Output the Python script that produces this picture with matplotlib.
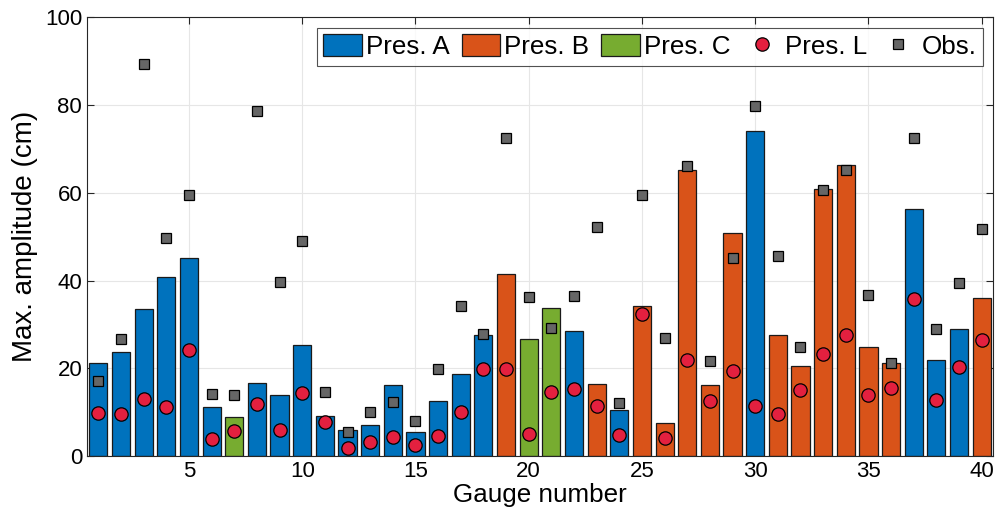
import matplotlib
matplotlib.use('Agg')
import matplotlib.pyplot as plt
import numpy as np

plt.rcParams['font.family'] = ['Liberation Sans', 'DejaVu Sans']

gauges = list(range(1, 41))
bar_vals = [21.3, 23.8, 33.6, 40.9, 45.2, 11.1, 8.9, 16.7, 13.9, 25.3,
            9.1, 5.9, 7.0, 16.3, 5.4, 12.5, 18.6, 27.6, 41.5, 26.7,
            33.8, 28.5, 16.5, 10.6, 34.1, 7.5, 65.3, 16.2, 50.9, 74.1,
            27.6, 20.6, 60.8, 66.3, 24.8, 21.2, 56.4, 21.8, 28.9, 36.1]
bar_kind = ['A', 'A', 'A', 'A', 'A', 'A', 'C', 'A', 'A', 'A',
            'A', 'A', 'A', 'A', 'A', 'A', 'A', 'A', 'B', 'C',
            'C', 'A', 'B', 'A', 'B', 'B', 'B', 'B', 'B', 'A',
            'B', 'B', 'B', 'B', 'B', 'B', 'A', 'A', 'A', 'B']
pres_l = [9.8, 9.5, 12.9, 11.2, 24.1, 3.9, 5.6, 11.9, 6.0, 14.4,
          7.7, 1.8, 3.1, 4.4, 2.4, 4.5, 10.0, 19.8, 19.9, 5.1,
          14.5, 15.3, 11.3, 4.8, 32.3, 4.1, 21.8, 12.6, 19.4, 11.4,
          9.6, 15.1, 23.2, 27.6, 14.0, 15.5, 35.9, 12.7, 20.3, 26.4]
obs = [17.0, 26.7, 89.3, 49.7, 59.5, 14.2, 14.0, 78.7, 39.6, 48.9,
       14.6, 5.4, 10.1, 12.2, 8.0, 19.8, 34.2, 27.7, 72.5, 36.3,
       29.1, 36.5, 52.1, 12.1, 59.6, 26.8, 66.0, 21.7, 45.1, 79.8,
       45.5, 24.8, 60.7, 65.1, 36.8, 21.3, 72.6, 28.9, 39.4, 51.7]

kind_colors = {'A': '#0072BD', 'B': '#D95319', 'C': '#77AC30'}

fig = plt.figure(figsize=(9.97, 5.25), dpi=100)
ax = fig.add_axes([0.0873, 0.1314, 0.9087, 0.8356])

x = np.array(gauges)
h = np.array(bar_vals)
k = np.array(bar_kind)
handles = []
for kind in ('A', 'B', 'C'):
    m = k == kind
    b = ax.bar(x[m], h[m], width=0.8, color=kind_colors[kind],
               edgecolor='#1a1a1a', linewidth=0.9, zorder=2,
               label='Pres. ' + kind)
    handles.append(b)

l1, = ax.plot(x, pres_l, 'o', ms=9.6, mfc='#E3203F', mec='black', mew=0.9,
              zorder=4, label='Pres. L')
l2, = ax.plot(x, obs, 's', ms=7.9, mfc='#666666', mec='black', mew=0.9,
              zorder=3, label='Obs.')
handles += [l1, l2]

ax.set_xlim(0.5, 40.5)
ax.set_ylim(0, 100)
ax.set_xticks(range(5, 41, 5))
ax.set_yticks(range(0, 101, 20))
ax.grid(True, color='#e6e6e6', linewidth=0.8, zorder=0)
ax.set_axisbelow(True)
ax.tick_params(direction='in', top=True, right=True, labelsize=16,
               length=5, width=0.8, color='#262626')
for s in ax.spines.values():
    s.set_color('#262626')
    s.set_linewidth(0.8)
ax.set_xlabel('Gauge number', fontsize=18.7, labelpad=1)
ax.set_ylabel('Max. amplitude (cm)', fontsize=20, labelpad=5)

leg = ax.legend(handles=handles, loc='upper right', ncol=5, fontsize=18.7,
                frameon=True, fancybox=False, edgecolor='#262626',
                handlelength=1.5, handleheight=0.92, columnspacing=0.45,
                handletextpad=0.15, borderpad=0.25, borderaxespad=0,
                bbox_to_anchor=(983 / 997, 1 - 28 / 525),
                bbox_transform=fig.transFigure)
leg.get_frame().set_linewidth(0.8)

fig.savefig('out.png', dpi=100)
